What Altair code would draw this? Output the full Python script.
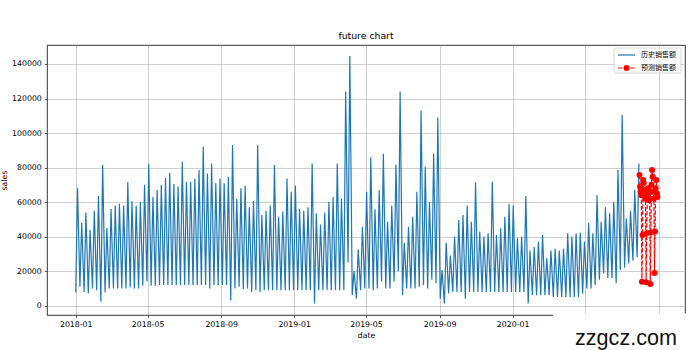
import altair as alt
import pandas as pd

# ---- data (weekly peak / trough of daily sales) ----
peaks = [
    68000, 48000, 54000, 44000, 55000, 63500, 81500, 45000, 56000, 58000, 59000, 58000,
    71500, 60500, 58000, 60000, 70000, 82000, 63000, 67000, 70000, 74000, 77000,
    70500, 69000, 83400, 71800, 71800, 73700, 78600, 92000, 76600, 82400, 70900, 73700,
    70900, 74700, 93000, 62000, 68000, 69500, 57000, 60600, 93000, 52500,
    55000, 58000, 81500, 51500, 54500, 73700, 66000, 69500, 56000, 55000, 57000, 82400,
    53500, 47000, 54000, 60000, 63000, 82400, 62000, 124000, 144600, 20000, 32600,
    45700, 66000, 86000, 55800, 67000, 88000, 48600, 58000, 81800, 124000, 36500, 45700,
    51500, 66000, 113000, 80500, 60000, 88000, 109000, 20700, 36500, 29000, 40000,
    49600, 52500, 58000, 48600, 71500, 43000, 40000, 42000, 71800, 41000, 44800, 51500,
    59000, 58000, 39000, 40000, 63500, 32000, 34000, 37000, 41000, 27400, 32000,
    33000, 32000, 33000, 42000, 40000, 42000, 42300, 37000, 48000, 42000, 64000, 48600,
    57000, 53500, 60000, 78600, 110500, 50500, 55000, 67000, 82400,
]
troughs = [
    7700, 11000, 8000, 7000, 10000, 9000, 2300, 7700, 10000, 10000, 10000, 10000,
    10000, 10500, 10000, 10000, 11500, 14000, 11500, 11500, 12000, 12000, 12000,
    12000, 12000, 12000, 12000, 12000, 12000, 12000, 12000, 12000, 10000, 12000, 12000,
    12000, 12000, 3000, 10000, 11000, 9500, 10000, 8000, 9000, 8000,
    9000, 9000, 9000, 9000, 9000, 9000, 9000, 9000, 9000, 9000, 9000, 9000,
    1300, 9000, 9000, 9000, 9000, 9000, 9000, 9000, 25000, 6000, 4000,
    9000, 10000, 10000, 9000, 10000, 14000, 10000, 10000, 14000, 20000, 6000, 10000,
    10000, 10000, 11000, 12000, 10000, 15000, 13000, 4000, 1300, 7000, 8000,
    8000, 8000, 4000, 8000, 8000, 8000, 8000, 8000, 8000, 8000, 8000, 8000,
    8000, 8000, 8000, 8000, 8000, 1300, 6000, 6000, 6000, 6000, 6000,
    5000, 5000, 5000, 5000, 5000, 5000, 5000, 7000, 10000, 10000, 12000, 15000,
    18700, 16000, 16000, 13000, 20700, 22000, 24500, 26000, 28000,
]
forecast = [
    75700, 69000, 66000, 64000, 13900, 41000, 72800,
    71000, 67000, 64000, 62000, 13500, 42000, 65000,
    68000, 63000, 61000, 66000, 12500, 42500, 70000,
    78600, 74700, 66000, 62000, 19000, 43000, 68000,
    72800, 65000, 63000,
]
legend_labels = ["历史销售额", "预测销售额"]
y_ticks = [0, 20000, 40000, 60000, 80000, 100000, 120000, 140000]
x_ticks = [(2018, 1), (2018, 5), (2018, 9), (2019, 1), (2019, 5), (2019, 9),
           (2020, 1), (2020, 5), (2020, 9)]

start = pd.Timestamp("2018-01-01")
rows = []
for i, (t, p) in enumerate(zip(troughs, peaks)):
    rows.append({"date": start + pd.Timedelta(days=7 * i), "sales": t})
    rows.append({"date": start + pd.Timedelta(days=7 * i + 3), "sales": p})
hist = pd.DataFrame(rows)
fc_start = start + pd.Timedelta(days=942)
fc = pd.DataFrame({
    "date": [fc_start + pd.Timedelta(days=d) for d in range(len(forecast))],
    "sales": forecast,
})

FONT = "DejaVu Sans"
W, H = 638, 270

x_enc = alt.X(
    "date:T",
    scale=alt.Scale(domain=[alt.DateTime(year=2017, month=11, date=14),
                            alt.DateTime(year=2020, month=10, date=15)]),
    axis=alt.Axis(values=[alt.DateTime(year=y, month=m, date=1) for y, m in x_ticks],
                  # the last two labels sit under the watermark box in the reference
                  labelExpr="datum.value > time(datetime(2020, 2, 1)) ? '' : timeFormat(datum.value, '%Y-%m')",
                  title="date", labelOverlap=False),
)
y_enc = alt.Y(
    "sales:Q",
    scale=alt.Scale(domain=[-5400, 151000], nice=False, zero=False),
    axis=alt.Axis(values=y_ticks, format="d", title="sales", labelOverlap=False,
                  tickCount=8),
)

blue = alt.Chart(hist).mark_line(color="#1f77b4", strokeWidth=1.2).encode(x=x_enc, y=y_enc)
red = alt.Chart(fc).mark_line(
    color="red", strokeWidth=1.2, strokeDash=[4.3, 1.9],
    point=alt.OverlayMarkDef(color="red", filled=True, size=36, opacity=1),
).encode(x=x_enc, y=y_enc)

one = pd.DataFrame({"k": [0]})

# legend (drawn inside the axes, upper right)
leg_box = alt.Chart(one).mark_rect(
    fill="white", fillOpacity=0.8, stroke="#cccccc", strokeWidth=0.8, cornerRadius=2
).encode(x=alt.value(567), x2=alt.value(634), y=alt.value(3), y2=alt.value(28))
leg_blue = alt.Chart(one).mark_rule(color="#1f77b4", strokeWidth=1.2).encode(
    x=alt.value(571), x2=alt.value(588), y=alt.value(10))
leg_red = alt.Chart(one).mark_rule(color="red", strokeWidth=1.2, strokeDash=[4.3, 1.9]).encode(
    x=alt.value(571), x2=alt.value(588), y=alt.value(23))
leg_dot = alt.Chart(one).mark_point(color="red", filled=True, size=36, opacity=1, shape="circle").encode(
    x=alt.value(579.5), y=alt.value(23))
leg_t1 = alt.Chart(one).mark_text(align="left", baseline="middle", font="Noto Sans CJK SC",
                                  fontSize=7, color="black").encode(
    x=alt.value(594), y=alt.value(10), text=alt.value(legend_labels[0]))
leg_t2 = alt.Chart(one).mark_text(align="left", baseline="middle", font="Noto Sans CJK SC",
                                  fontSize=7, color="black").encode(
    x=alt.value(594), y=alt.value(23), text=alt.value(legend_labels[1]))

# watermark box bottom-right
wm_box = alt.Chart(one).mark_rect(fill="white").encode(
    x=alt.value(506), x2=alt.value(653), y=alt.value(268.5), y2=alt.value(305))
wm_text = alt.Chart(one).mark_text(align="center", baseline="alphabetic",
                                   font="Liberation Sans", fontSize=21.6, color="#111111").encode(
    x=alt.value(579), y=alt.value(300), text=alt.value("zzgcz.com"))

chart = alt.layer(
    blue, red, leg_box, leg_blue, leg_red, leg_dot, leg_t1, leg_t2, wm_box, wm_text
).properties(
    width=W, height=H,
    title=alt.TitleParams("future chart", font=FONT, fontSize=9.3, fontWeight="normal",
                          color="black", anchor="middle", baseline="alphabetic", offset=-3),
    autosize=alt.AutoSizeParams(type="none"),
    padding={"left": 47, "top": 45, "right": 15, "bottom": 35},
    background="white",
).configure_view(
    stroke="black", strokeWidth=0.8,
).configure_axis(
    labelFont=FONT, labelFontSize=7.8, labelColor="black",
    titleFont=FONT, titleFontSize=7.8, titleFontWeight="normal", titleColor="black",
    tickColor="black", tickSize=2.7, tickWidth=0.6, domain=False,
    grid=True, gridColor="#b0b0b0", gridWidth=0.6,
    labelPadding=3, titlePadding=3, labelOverlap=False,
)

chart.save("out.html", embed_options={"renderer": "svg", "actions": False})
